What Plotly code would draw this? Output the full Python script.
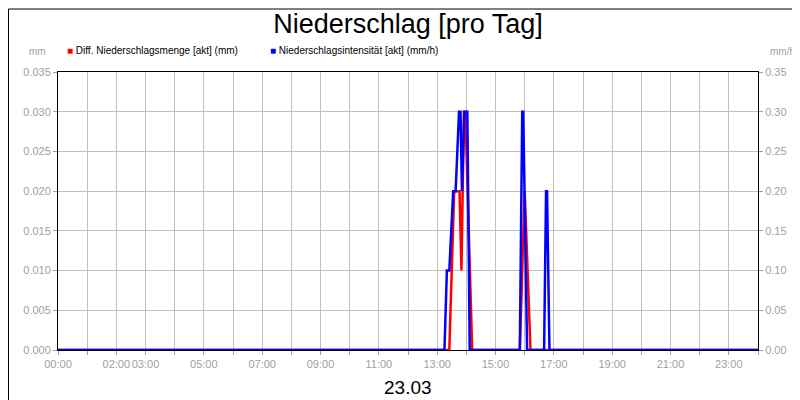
import plotly.graph_objects as go

# Diff. Niederschlagsmenge (mm), left axis
red_time = ["00:00", "13:25", "13:35", "13:46", "13:50", "13:55", "13:58", "14:12",
            "15:50", "16:00", "16:12", "24:00"]
red_val = [0, 0, 0.02, 0.02, 0.01, 0.03, 0.03, 0, 0, 0.02, 0, 0]

# Niederschlagsintensitaet (mm/h), right axis
blue_time = ["00:00", "13:15", "13:20", "13:25", "13:33", "13:38", "13:45", "13:48", "13:51",
             "13:56", "14:02", "14:07", "15:50", "15:55", "15:57", "16:05",
             "16:40", "16:44", "16:46", "16:51", "24:00"]
blue_val = [0, 0, 0.1, 0.1, 0.2, 0.2, 0.3, 0.3, 0.2, 0.3, 0.3, 0, 0, 0.3, 0.3, 0,
            0, 0.2, 0.2, 0, 0]

hours = list(range(25))
hour_labels = ["00:00", "", "02:00", "03:00", "", "05:00", "", "07:00", "", "09:00", "",
               "11:00", "", "13:00", "", "15:00", "", "17:00", "", "19:00", "", "21:00",
               "", "23:00", ""]


def to_h(t):
    h, m = t.split(":")
    return int(h) + int(m) / 60


fig = go.Figure()
fig.add_trace(go.Scatter(x=[to_h(t) for t in blue_time], y=blue_val, yaxis="y2",
                         mode="lines", line=dict(color="#0000ff", width=2.5)))
fig.add_trace(go.Scatter(x=[to_h(t) for t in red_time], y=red_val,
                         mode="lines", line=dict(color="#ff0000", width=2.5)))

tick_font = dict(family="Liberation Sans", size=11, color="#a0a0a0")
fig.update_layout(
    width=800, height=400, showlegend=False,
    paper_bgcolor="white", plot_bgcolor="white",
    margin=dict(l=50, r=50, t=64, b=58),
    font=dict(family="Liberation Sans"),
    title=dict(text="Niederschlag [pro Tag]", x=0.5, y=0.985, yanchor="top",
               font=dict(size=27, color="black")),
    xaxis=dict(range=[0, 24], tickvals=hours, ticktext=hour_labels, tickfont=tick_font,
               tickangle=0, automargin=False,
               showgrid=True, gridcolor="#c0c0c0", zeroline=False, ticks="outside",
               ticklen=4, tickcolor="#a0a0a0", showline=True, linecolor="black", mirror=True),
    yaxis=dict(range=[0, 0.035], dtick=0.005, tickformat=".3f", tickfont=tick_font,
               automargin=False,
               showgrid=True, gridcolor="#c0c0c0", zeroline=False, ticks="outside",
               ticklen=4, tickcolor="#a0a0a0", showline=True, linecolor="black", mirror=True),
    yaxis2=dict(range=[0, 0.35], dtick=0.05, tickformat=".2f", tickfont=tick_font,
                automargin=False,
                overlaying="y", side="right", showgrid=False, zeroline=False,
                ticks="outside", ticklen=4, tickcolor="#a0a0a0"),
    shapes=[dict(type="rect", xref="paper", yref="paper", x0=-0.0707, x1=1.0707,
                 y0=-0.2086, y1=1.2266, line=dict(color="black", width=1))],
    annotations=[
        dict(text="mm", xref="paper", yref="paper", x=-0.0143, y=1.045, xanchor="right",
             yanchor="bottom", showarrow=False, font=dict(size=10, color="#a0a0a0")),
        dict(text="mm/h", xref="paper", yref="paper", x=1.0143, y=1.045, xanchor="left",
             yanchor="bottom", showarrow=False, font=dict(size=10, color="#a0a0a0")),
        dict(text="<span style='color:#ff0000'>■</span> Diff. Niederschlagsmenge [akt] (mm)",
             xref="paper", yref="paper", x=0.01, y=1.05, xanchor="left", yanchor="bottom",
             showarrow=False, font=dict(size=10, color="black")),
        dict(text="<span style='color:#0000ff'>■</span> Niederschlagsintensität [akt] (mm/h)",
             xref="paper", yref="paper", x=0.3, y=1.05, xanchor="left", yanchor="bottom",
             showarrow=False, font=dict(size=10, color="black")),
        dict(text="23.03", xref="paper", yref="paper", x=0.5, y=-0.09, xanchor="center",
             yanchor="top", showarrow=False, font=dict(size=19, color="black")),
    ],
)
fig.write_html("out.html")
